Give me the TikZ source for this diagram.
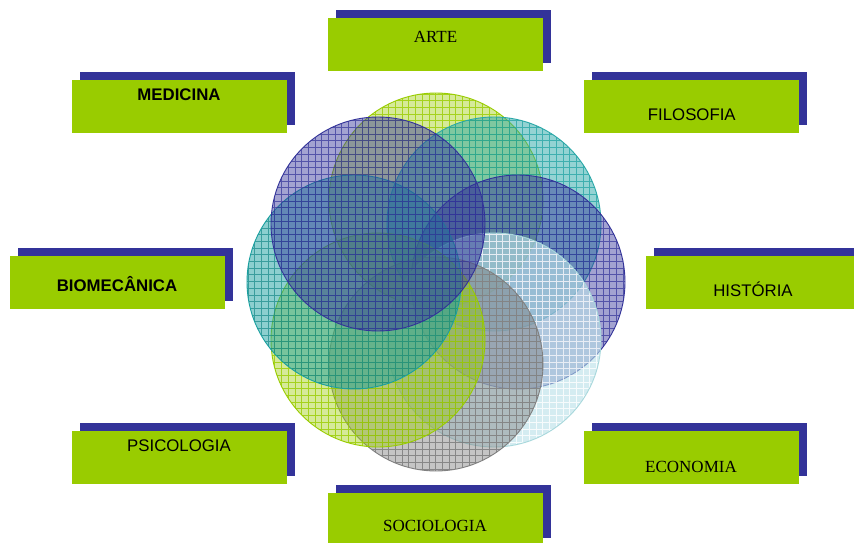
\documentclass[tikz,border=0pt]{standalone}
\usepackage{fontspec}
\setmainfont{Liberation Serif}
\setsansfont{Liberation Sans}
\usetikzlibrary{calc}
\definecolor{boxgreen}{HTML}{99CC00}
\definecolor{boxshadow}{HTML}{333399}
\definecolor{ygreen}{HTML}{99CC00}
\definecolor{tealA}{HTML}{2AA8A8}
\definecolor{tealB}{HTML}{1AA0A0}
\definecolor{navyc}{HTML}{333399}
\definecolor{cyanl}{HTML}{B8E0E8}
\definecolor{cyanb}{HTML}{A8D8DC}
\definecolor{grayc}{HTML}{808080}
\newcommand{\mypetal}[6]{%
  \begin{scope}
    \clip (#1) circle[radius=107pt];
    \fill[#2, fill opacity=#3] (#1) circle[radius=107pt];
    \draw[#4, draw opacity=#6, line width=0.55pt, step=6.7pt] ($(#1)+(-113,-113)$) grid ($(#1)+(113,113)$);
  \end{scope}
  \draw[#5, line width=0.9pt] (#1) circle[radius=107pt];
}
\begin{document}
\begin{tikzpicture}[x=1pt,y=-1pt,
  greenbox/.style={fill=boxgreen, draw=none, minimum width=215pt, minimum height=53pt, inner sep=0pt, anchor=north west},
  shadowbox/.style={fill=boxshadow, draw=none, minimum width=215pt, minimum height=53pt, inner sep=0pt, anchor=north west},
  seriflabel/.style={anchor=base, inner sep=0pt, font=\rmfamily\fontsize{17}{20}\selectfont},
  sanslabel/.style={anchor=base, inner sep=0pt, font=\sffamily\fontsize{16.8}{20}\selectfont},
  boldlabel/.style={anchor=base, inner sep=0pt, font=\sffamily\bfseries\fontsize{16.8}{20}\selectfont}]
\useasboundingbox (0,0) rectangle (854,543);
\fill[white] (0,0) rectangle (854,543);
% circle centres
\coordinate (cN) at (436,200);
\coordinate (cNE) at (494,224);
\coordinate (cE) at (518,282);
\coordinate (cSE) at (494,340);
\coordinate (cS) at (436,364);
\coordinate (cSW) at (378,340);
\coordinate (cW) at (354,282);
\coordinate (cNW) at (378,224);
% circles
\mypetal{cN}{ygreen}{0.4}{ygreen}{ygreen}{0.8}
\mypetal{cNE}{tealA}{0.5}{tealB}{tealA}{0.7}
\mypetal{cE}{navyc}{0.45}{navyc}{navyc}{0.7}
\mypetal{cSE}{cyanl}{0.6}{white}{cyanb}{0.8}
\mypetal{cS}{grayc}{0.45}{grayc!85!black}{grayc}{0.7}
\mypetal{cSW}{ygreen}{0.4}{ygreen}{ygreen}{0.8}
\mypetal{cW}{tealB}{0.5}{tealB!85!black}{tealB}{0.7}
\mypetal{cNW}{navyc}{0.45}{navyc}{navyc}{0.7}
% boxes
\node[shadowbox] (arteS) at (336,10) {};
\node[greenbox] (arteB) at (328,18) {};
\node[seriflabel] (arteT) at (435.5,42.3) {ARTE};
\node[shadowbox] (mediS) at (80,72) {};
\node[greenbox] (mediB) at (72,80) {};
\node[boldlabel] (mediT) at (179,100.7) {MEDICINA};
\node[shadowbox] (filoS) at (592,72) {};
\node[greenbox] (filoB) at (584,80) {};
\node[sanslabel] (filoT) at (691.8,120.7) {FILOSOFIA};
\node[shadowbox] (bioS) at (18,248) {};
\node[greenbox] (bioB) at (10,256) {};
\node[boldlabel] (bioT) at (117,291.7) {BIOMECÂNICA};
\node[shadowbox] (histS) at (654,248) {};
\node[greenbox] (histB) at (646,256) {};
\node[sanslabel] (histT) at (753,296) {HISTÓRIA};
\node[shadowbox] (psiS) at (80,423) {};
\node[greenbox] (psiB) at (72,431) {};
\node[sanslabel] (psiT) at (179,451.7) {PSICOLOGIA};
\node[shadowbox] (ecoS) at (592,423) {};
\node[greenbox] (ecoB) at (584,431) {};
\node[seriflabel] (ecoT) at (691,472.3) {ECONOMIA};
\node[shadowbox] (socS) at (336,485) {};
\node[greenbox] (socB) at (328,493) {};
\node[seriflabel] (socT) at (435,531) {SOCIOLOGIA};
\end{tikzpicture}
\end{document}
